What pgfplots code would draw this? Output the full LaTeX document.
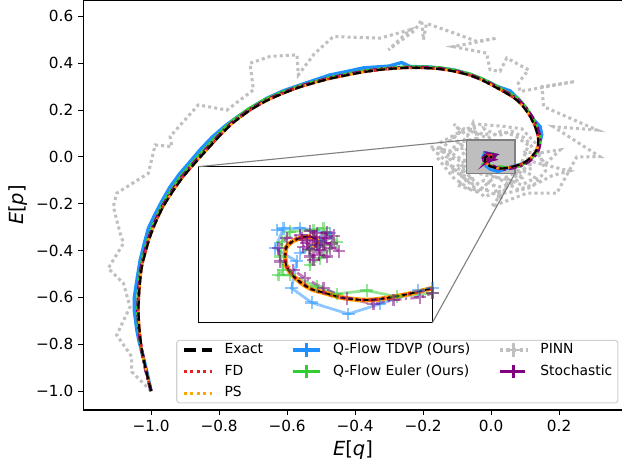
\documentclass[border=0pt]{standalone}
\usepackage{fontspec}
\setmainfont{DejaVu Sans}
\usepackage{pgfplots}
\usepackage{pgfplotstable}
\pgfplotsset{compat=1.18}
\definecolor{tdvp}{RGB}{30,144,255}
\definecolor{euler}{RGB}{50,205,50}
\definecolor{fdred}{RGB}{226,35,35}
\definecolor{psorange}{RGB}{255,165,0}
\definecolor{pinn}{RGB}{192,192,192}
\definecolor{stoch}{RGB}{128,0,128}
\definecolor{rectfill}{RGB}{190,190,190}
\definecolor{rectedge}{RGB}{128,128,128}

\pgfplotstableread{
q p
-1.000 -1.000
-1.015 -0.910
-1.027 -0.825
-1.034 -0.740
-1.037 -0.654
-1.034 -0.560
-1.027 -0.469
-1.015 -0.400
-1.003 -0.341
-0.985 -0.275
-0.964 -0.212
-0.935 -0.145
-0.905 -0.084
-0.870 -0.025
-0.836 0.030
-0.798 0.090
-0.759 0.145
-0.710 0.198
-0.660 0.240
-0.610 0.272
-0.562 0.298
-0.515 0.318
-0.474 0.334
-0.420 0.350
-0.376 0.362
-0.320 0.373
-0.253 0.380
-0.200 0.380
-0.150 0.375
-0.105 0.364
-0.062 0.348
-0.030 0.330
0.000 0.308
0.030 0.284
0.055 0.263
0.076 0.242
0.097 0.210
0.115 0.172
0.129 0.130
0.137 0.090
0.139 0.058
0.134 0.030
0.124 0.009
0.110 -0.012
0.095 -0.026
0.082 -0.034
0.070 -0.039
0.0527 -0.0452
0.0327 -0.0497
0.0168 -0.0478
0.0048 -0.0430
-0.0012 -0.0406
-0.0072 -0.0357
-0.0132 -0.0282
-0.0172 -0.0197
-0.0181 -0.0107
-0.0172 -0.0018
-0.0122 0.0042
-0.0052 0.0072
-0.0002 0.0057
0.0010 0.0020
-0.0002 -0.0008
-0.0018 0.0006
}\exact

\pgfplotstableread{
q p
-1.000 -1.000
-1.012 -0.920
-1.023 -0.853
-1.035 -0.790
-1.042 -0.739
-1.049 -0.660
-1.049 -0.597
-1.041 -0.520
-1.032 -0.440
-1.020 -0.370
-1.008 -0.305
-0.990 -0.250
-0.969 -0.191
-0.945 -0.130
-0.915 -0.070
-0.885 -0.020
-0.856 0.030
-0.820 0.085
-0.780 0.135
-0.745 0.172
-0.700 0.215
-0.660 0.250
-0.610 0.283
-0.560 0.308
-0.515 0.330
-0.474 0.350
-0.420 0.366
-0.376 0.380
-0.300 0.388
-0.263 0.403
-0.238 0.386
-0.180 0.384
-0.111 0.372
-0.060 0.352
-0.020 0.328
0.020 0.300
0.056 0.282
0.085 0.240
0.105 0.200
0.124 0.160
0.144 0.130
0.149 0.094
0.143 0.060
0.138 0.030
0.125 0.005
0.108 -0.018
0.090 -0.030
0.070 -0.0391
0.0616 -0.0412
0.0387 -0.0532
0.0197 -0.0622
-0.0022 -0.0520
-0.0142 -0.0391
-0.0112 -0.0150
-0.0241 -0.0033
-0.0191 0.0147
-0.0231 0.0132
-0.0092 0.0150
0.0088 0.0102
0.0030 0.0030
-0.0092 -0.0078
0.0010 0.0000
}\tdvpdata

\pgfplotstableread{
q p
-1.000 -1.000
-1.017 -0.905
-1.030 -0.820
-1.038 -0.735
-1.041 -0.650
-1.038 -0.555
-1.031 -0.465
-1.019 -0.395
-1.007 -0.335
-0.989 -0.270
-0.968 -0.205
-0.940 -0.138
-0.910 -0.076
-0.875 -0.018
-0.841 0.037
-0.803 0.097
-0.764 0.152
-0.715 0.205
-0.664 0.247
-0.612 0.279
-0.563 0.304
-0.515 0.324
-0.474 0.340
-0.420 0.356
-0.376 0.368
-0.320 0.378
-0.253 0.386
-0.200 0.386
-0.150 0.382
-0.105 0.371
-0.062 0.355
-0.030 0.337
0.003 0.314
0.033 0.290
0.058 0.270
0.080 0.250
0.102 0.214
0.120 0.175
0.134 0.132
0.145 0.088
0.144 0.058
0.138 0.030
0.127 0.006
0.112 -0.017
0.097 -0.030
0.084 -0.040
0.070 -0.0436
0.0486 -0.0466
0.0307 -0.0412
0.0127 -0.0442
0.0008 -0.0376
-0.0152 -0.0272
-0.0221 -0.0272
-0.0192 -0.0227
-0.0211 -0.0107
-0.0201 0.0027
-0.0152 0.0117
-0.0012 0.0132
0.0048 0.0147
0.0127 0.0027
0.0028 -0.0122
-0.0032 -0.0182
-0.0032 -0.0048
0.0048 -0.0003
}\eulerdata

\pgfplotstableread{
q p
-1.000 -1.000
-1.016 -0.908
-1.028 -0.823
-1.036 -0.738
-1.039 -0.652
-1.036 -0.558
-1.029 -0.467
-1.017 -0.398
-1.005 -0.339
-0.987 -0.273
-0.966 -0.210
-0.937 -0.143
-0.907 -0.082
-0.872 -0.023
-0.838 0.032
-0.800 0.092
-0.761 0.147
-0.712 0.200
-0.662 0.242
-0.612 0.274
-0.564 0.300
-0.517 0.320
-0.476 0.336
-0.422 0.352
-0.378 0.364
-0.322 0.375
-0.255 0.382
-0.200 0.382
-0.150 0.377
-0.103 0.366
-0.060 0.349
-0.027 0.330
0.004 0.308
0.034 0.284
0.060 0.263
0.082 0.241
0.103 0.208
0.121 0.170
0.135 0.128
0.143 0.089
0.144 0.058
0.139 0.029
0.129 0.006
0.114 -0.016
0.099 -0.030
0.085 -0.039
0.0700 -0.0436
0.0626 -0.0472
0.0467 -0.0496
0.0347 -0.0532
0.0187 -0.0481
0.0048 -0.0391
-0.0062 -0.0302
-0.0132 -0.0227
-0.0211 -0.0152
-0.0221 -0.0033
-0.0172 0.0057
-0.0092 0.0087
-0.0012 0.0072
-0.0052 0.0012
0.0028 -0.0048
-0.0032 -0.0107
0.0048 0.0012
0.0008 0.0102
-0.0072 -0.0018
0.0068 -0.0107
-0.0012 -0.0137
-0.0052 0.0042
0.0088 -0.0033
0.0008 -0.0003
0.0110 0.0080
-0.0030 0.0120
0.0140 -0.0060
0.0060 0.0060
-0.0080 0.0060
0.0020 -0.0090
0.0100 0.0010
-0.0040 -0.0040
0.0070 0.0110
0.0000 0.0030
}\stochdata

\pgfplotstableread{
q p
-1.000 -1.000
-1.057 -0.917
-1.057 -0.853
-1.101 -0.761
-1.062 -0.640
-1.081 -0.540
-1.126 -0.476
-1.081 -0.369
-1.091 -0.326
-1.111 -0.212
-1.101 -0.155
-1.008 -0.070
-0.988 0.051
-0.939 0.044
-0.944 0.087
-0.861 0.222
-0.777 0.200
-0.699 0.286
-0.709 0.400
-0.650 0.429
-0.571 0.436
-0.567 0.350
-0.520 0.440
-0.464 0.514
-0.326 0.507
-0.238 0.543
-0.302 0.457
-0.225 0.540
-0.204 0.585
-0.199 0.500
-0.190 0.570
-0.111 0.530
-0.042 0.493
0.017 0.507
-0.111 0.471
-0.013 0.443
-0.003 0.372
0.026 0.365
0.046 0.422
0.110 0.372
0.080 0.315
0.085 0.279
0.247 0.322
0.150 0.300
0.154 0.215
0.311 0.115
0.183 0.129
0.320 0.001
0.252 0.000
0.193 -0.155
0.105 -0.155
0.002 -0.212
0.040 -0.140
-0.020 -0.170
-0.179 0.044
-0.120 0.025
-0.150 0.030
-0.090 0.110
-0.110 0.140
-0.070 0.090
-0.053 0.145
-0.040 0.080
-0.100 0.060
-0.130 0.000
-0.080 -0.020
-0.120 -0.060
-0.060 -0.090
-0.100 -0.120
-0.040 -0.150
0.000 -0.100
0.026 -0.184
0.050 -0.120
0.090 -0.090
0.060 -0.060
0.120 -0.050
0.100 0.020
0.144 0.017
0.203 0.030
0.160 -0.030
0.100 0.080
0.060 0.110
0.020 0.090
-0.020 0.120
0.000 0.060
0.040 0.040
-0.030 -0.050
0.080 -0.140
0.140 -0.110
0.180 -0.080
0.230 -0.060
0.120 -0.020
0.060 -0.100
-0.010 -0.080
-0.090 -0.050
-0.060 0.040
0.030 0.070
-0.140 0.020
-0.100 -0.010
-0.070 0.030
-0.110 0.080
-0.080 0.120
-0.030 0.100
-0.050 0.060
-0.090 -0.080
-0.050 -0.120
-0.020 -0.100
0.020 -0.130
0.070 -0.110
0.100 -0.060
0.130 -0.090
0.090 -0.120
0.040 -0.090
0.080 -0.060
0.110 0.050
0.070 0.090
0.030 0.110
-0.010 0.080
-0.060 0.110
-0.100 0.030
-0.130 -0.030
-0.080 -0.060
-0.030 -0.130
0.010 -0.160
0.060 -0.150
0.120 -0.130
0.160 -0.060
0.130 0.060
0.090 0.120
0.040 0.130
-0.040 0.140
-0.100 0.100
-0.150 0.060
-0.160 0.000
-0.110 -0.090
-0.060 -0.140
0.000 -0.140
}\pinndata

\begin{document}
\begin{tikzpicture}
\begin{axis}[
  name=main, at={(0,0)}, anchor=south west,
  scale only axis, width=390.2pt, height=295.2pt,
  xmin=-1.2, xmax=0.394, ymin=-1.081, ymax=0.670,
  xtick={-1,-0.8,-0.6,-0.4,-0.2,0,0.2},
  xticklabels={−1.0,−0.8,−0.6,−0.4,−0.2,0.0,0.2},
  ytick={-1,-0.8,-0.6,-0.4,-0.2,0,0.2,0.4,0.6},
  yticklabels={−1.0,−0.8,−0.6,−0.4,−0.2,0.0,0.2,0.4,0.6},
  tick align=outside, xtick pos=bottom, ytick pos=left,
  major tick length=3.5pt,
  every tick/.style={black, line width=0.8pt},
  axis line style={line width=0.8pt},
  ticklabel style={font=\fontsize{11}{13}\selectfont},
  xlabel={\textit{E}[\textit{q}]},
  ylabel={\textit{E}[\textit{p}]},
  xlabel style={at={(axis description cs:0.498,-0.098)}, anchor=center, font=\fontsize{14}{16}\selectfont},
  ylabel style={at={(axis description cs:-0.12,0.5)}, anchor=center, font=\fontsize{14}{16}\selectfont},
  legend columns=3,
  legend cell align=left,
  legend image code/.code={\draw[mark repeat=2,mark phase=2,#1] plot coordinates {(0pt,0pt) (10pt,0pt) (20pt,0pt)};},
  legend style={at={(axis description cs:1,0)}, anchor=south east, xshift=-4.8pt, yshift=4.8pt,
    font=\fontsize{10}{12}\selectfont, draw=black!18, line width=0.8pt, rounded corners=2pt,
    fill=white, fill opacity=0.8, text opacity=1, inner xsep=4pt, inner ysep=2pt,
    nodes={inner xsep=0pt, inner ysep=0pt, text height=7.5pt, text depth=2.5pt},
    row sep=5.5pt},
]
% legend entries (row-major to mimic column-wise order)
\addlegendimage{black, line width=2.4pt, dash pattern=on 8.9pt off 3.8pt}
\addlegendentry{\hspace*{8pt}Exact\hspace*{20pt}}
\addlegendimage{tdvp, line width=2.4pt, mark=+, mark size=4.8pt, mark options={solid, line width=2pt}}
\addlegendentry{\hspace*{8pt}Q-Flow TDVP (Ours)\hspace*{20pt}}
\addlegendimage{pinn, line width=2.4pt, dash pattern=on 2.2pt off 2.6pt, mark=+, mark size=4.8pt, mark options={solid, line width=2pt}}
\addlegendentry{\hspace*{8pt}PINN}
\addlegendimage{fdred, line width=2.2pt, dash pattern=on 2.2pt off 2.4pt}
\addlegendentry{\hspace*{8pt}FD\hspace*{20pt}}
\addlegendimage{euler, line width=2.4pt, mark=+, mark size=4.8pt, mark options={solid, line width=2pt}}
\addlegendentry{\hspace*{8pt}Q-Flow Euler (Ours)\hspace*{20pt}}
\addlegendimage{stoch, line width=2.4pt, dash pattern=on 6pt off 2.4pt on 1.6pt off 2.4pt, mark=+, mark size=4.8pt, mark options={solid, line width=2pt}}
\addlegendentry{\hspace*{8pt}Stochastic}
\addlegendimage{psorange, line width=2.2pt, dash pattern=on 2.2pt off 2.4pt}
\addlegendentry{\hspace*{8pt}PS\hspace*{20pt}}

% data
\addplot[forget plot, pinn, line width=2.2pt, dash pattern=on 2.2pt off 2.2pt] table {\pinndata};
\fill[rectfill, draw=rectedge, line width=1pt] (axis cs:-0.0715,-0.0697) rectangle (axis cs:0.0706,0.0726);
\addplot[forget plot, tdvp, line width=2.4pt] table {\tdvpdata};
\addplot[forget plot, euler, line width=1.8pt] table {\eulerdata};
\addplot[forget plot, stoch, line width=2.4pt, dash pattern=on 6pt off 2.4pt on 1.6pt off 2.4pt] table {\stochdata};
\addplot[forget plot, psorange, line width=1.8pt, dash pattern=on 1.8pt off 2pt, smooth] table {\exact};
\addplot[forget plot, fdred, line width=1.8pt, dash pattern=on 1.8pt off 2pt, dash phase=1.9pt, smooth] table {\exact};
\addplot[forget plot, black, line width=1.6pt, dash pattern=on 6pt off 2.6pt, smooth] table {\exact};
\coordinate (rTL) at (axis cs:-0.0715,0.0726);
\coordinate (rBR) at (axis cs:0.0706,-0.0697);
\end{axis}

\begin{axis}[
  name=inset, at={(83pt,62.9pt)}, anchor=south west,
  scale only axis, width=168.5pt, height=112.3pt,
  xmin=-0.07, xmax=0.07, ymin=-0.07, ymax=0.07,
  xtick=\empty, ytick=\empty,
  axis background/.style={fill=white},
  axis line style={line width=0.8pt},
]
\addplot[tdvp, line width=2pt, opacity=0.5, mark=+, mark size=4.5pt, mark options={solid, line width=1.6pt, opacity=0.5}] table {\tdvpdata};
\addplot[euler, line width=2pt, opacity=0.5, mark=+, mark size=4.5pt, mark options={solid, line width=1.6pt, opacity=0.5}] table {\eulerdata};
\addplot[stoch, line width=2pt, opacity=0.5, dash pattern=on 6pt off 2.4pt on 1.6pt off 2.4pt, mark=+, mark size=4.5pt, mark options={solid, line width=1.6pt, opacity=0.5}] table {\stochdata};
\addplot[psorange, line width=3.4pt, smooth] table {\exact};
\addplot[fdred, line width=2.4pt, dash pattern=on 2.4pt off 2.4pt, smooth] table {\exact};
\addplot[black, line width=1.3pt, dash pattern=on 3.6pt off 2pt, smooth] table {\exact};
\end{axis}
\draw[rectedge, line width=0.8pt] (rTL) -- (inset.north west);
\draw[rectedge, line width=0.8pt] (rBR) -- (inset.south east);
\pgfresetboundingbox
\path[use as bounding box] (-59.8pt,-40.3pt) rectangle (388pt,295.2pt);
\end{tikzpicture}
\end{document}
